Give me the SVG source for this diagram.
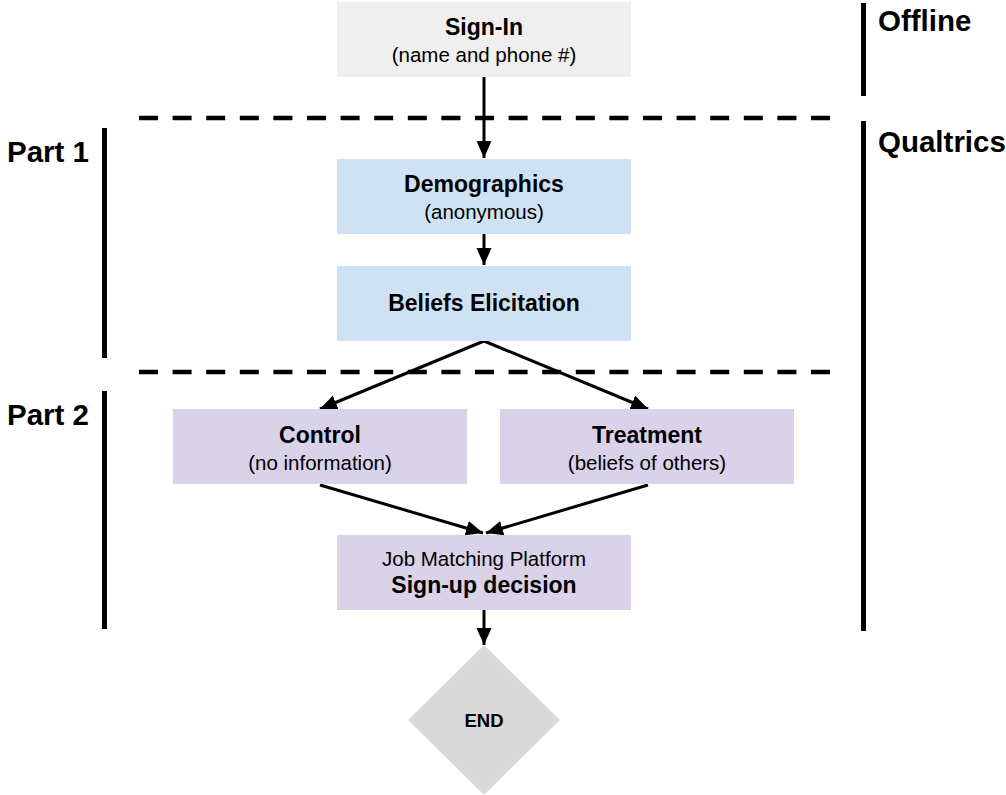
<svg xmlns="http://www.w3.org/2000/svg" width="1006" height="795" viewBox="0 0 1006 795">
<style>
.t{font-family:"Liberation Sans",Arial,sans-serif;fill:#000;text-anchor:middle}
.b{font-weight:bold;font-size:23px}
.r{font-size:20.5px}
.lab{font-family:"Liberation Sans",Arial,sans-serif;font-weight:bold;font-size:29.5px;fill:#000}
.c{stroke:#000;stroke-width:3;fill:none}
.bar{stroke:#000;stroke-width:5}
.dash{stroke:#000;stroke-width:4.5;stroke-dasharray:19 14.6}
</style>
<defs>
<marker id="ah" markerUnits="userSpaceOnUse" markerWidth="18" markerHeight="16" refX="17" refY="7.5" orient="auto">
<path d="M0,0 L17,7.5 L0,15 z" fill="#000"/>
</marker>
</defs>
<g id="separators">
<line class="dash" x1="139" y1="118" x2="830" y2="118"/>
<line class="dash" x1="139" y1="372" x2="830" y2="372"/>
<line class="bar" x1="104.5" y1="128" x2="104.5" y2="358"/>
<line class="bar" x1="104.5" y1="391" x2="104.5" y2="629"/>
<line class="bar" x1="863.5" y1="3" x2="863.5" y2="96"/>
<line class="bar" x1="863.5" y1="121" x2="863.5" y2="631"/>
</g>
<g id="labels">
<text class="lab" x="878" y="31">Offline</text>
<text class="lab" x="878" y="152">Qualtrics</text>
<text class="lab" x="7" y="162">Part 1</text>
<text class="lab" x="7" y="425">Part 2</text>
</g>
<g id="connectors">
<line class="c" x1="484" y1="77" x2="484" y2="158" marker-end="url(#ah)"/>
<line class="c" x1="484" y1="234" x2="484" y2="265" marker-end="url(#ah)"/>
<line class="c" x1="484" y1="341" x2="320" y2="409" marker-end="url(#ah)"/>
<line class="c" x1="484" y1="341" x2="648" y2="409" marker-end="url(#ah)"/>
<line class="c" x1="320" y1="485" x2="483" y2="533" marker-end="url(#ah)"/>
<line class="c" x1="648" y1="485" x2="486" y2="533" marker-end="url(#ah)"/>
<line class="c" x1="484" y1="610" x2="484" y2="645" marker-end="url(#ah)"/>
</g>
<g id="signin">
<rect x="337" y="2" width="294" height="75" fill="#efefef"/>
<text class="t b" x="484" y="35">Sign-In</text>
<text class="t r" x="484" y="62">(name and phone #)</text>
</g>
<g id="demographics">
<rect x="337" y="159" width="294" height="75" fill="#cfe2f3"/>
<text class="t b" x="484" y="192">Demographics</text>
<text class="t r" x="484" y="219">(anonymous)</text>
</g>
<g id="beliefs">
<rect x="337" y="266" width="294" height="75" fill="#cfe2f3"/>
<text class="t b" x="484" y="311">Beliefs Elicitation</text>
</g>
<g id="control">
<rect x="173" y="409" width="294" height="75" fill="#d9d2e9"/>
<text class="t b" x="320" y="443">Control</text>
<text class="t r" x="320" y="470">(no information)</text>
</g>
<g id="treatment">
<rect x="500" y="409" width="294" height="75" fill="#d9d2e9"/>
<text class="t b" x="647" y="443">Treatment</text>
<text class="t r" x="647" y="470">(beliefs of others)</text>
</g>
<g id="platform">
<rect x="337" y="535" width="294" height="75" fill="#d9d2e9"/>
<text class="t r" x="484" y="566">Job Matching Platform</text>
<text class="t b" x="484" y="593">Sign-up decision</text>
</g>
<g id="end">
<polygon points="484,645 560,720 484,795 408,720" fill="#d9d9d9"/>
<text class="t" x="484" y="727" style="font-weight:bold;font-size:18.5px">END</text>
</g>
</svg>
